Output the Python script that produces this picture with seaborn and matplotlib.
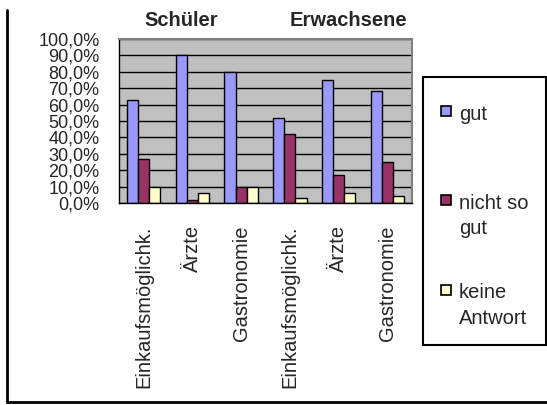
import matplotlib
matplotlib.use('Agg')
import matplotlib.pyplot as plt
from matplotlib.patches import Rectangle
from matplotlib.lines import Line2D
from matplotlib.ticker import FixedLocator, FuncFormatter
from matplotlib.transforms import blended_transform_factory
import seaborn as sns
import pandas as pd
import numpy as np

# data (percent)
groups = ['Schüler', 'Erwachsene']
categories = ['Einkaufsmöglichk.', 'Ärzte', 'Gastronomie']
series = ['gut', 'nicht so gut', 'keine Antwort']
legend_labels = ['gut', 'nicht so\ngut', 'keine\nAntwort']
colors = ['#9999FF', '#993366', '#FFFFCC']

gut = [63, 90, 80, 52, 75, 68]
nicht_so_gut = [27, 2, 10, 42, 17, 25]
keine_antwort = [10, 6, 10, 3, 6, 4]

slots = [f'{g}|{c}' for g in groups for c in categories]
slot_labels = [c for g in groups for c in categories]

rows = []
for name, vals in zip(series, [gut, nicht_so_gut, keine_antwort]):
    for s, v in zip(slots, vals):
        rows.append({'slot': s, 'series': name, 'value': v})
df = pd.DataFrame(rows)

sns.set_style('white')
plt.rcParams['font.family'] = ['Liberation Sans', 'DejaVu Sans']

W, H = 547, 405
FS = 14.5
fig = plt.figure(figsize=(W / 100, H / 100), dpi=100)
ax = fig.add_axes([119 / W, 1 - 203 / H, (412 - 119) / W, (203 - 39) / H])

sns.barplot(data=df, x='slot', y='value', hue='series', order=slots,
            hue_order=series, palette=colors, saturation=1,
            edgecolor='black', linewidth=1, width=0.68, gap=0,
            legend=False, ax=ax)

ax.set_facecolor('#C0C0C0')
ax.set_xlim(-0.5, len(slots) - 0.5)
ax.set_ylim(0, 100)
ax.set_yticks(np.arange(0, 101, 10))
ax.yaxis.set_major_formatter(FuncFormatter(lambda v, p: f'{v:.1f}%'.replace('.', ',')))
ax.grid(axis='y', color='black', linewidth=1)
ax.set_axisbelow(True)
ax.set_xlabel('')
ax.set_ylabel('')

ax.set_xticks(range(len(slots)))
ax.set_xticklabels(slot_labels, rotation=90, va='top', fontsize=FS)
ax.xaxis.set_minor_locator(FixedLocator(np.arange(-0.5, len(slots), 1)))
ax.tick_params(axis='x', which='major', length=0, pad=16)
ax.tick_params(axis='x', which='minor', length=5, width=1, color='black', direction='out')
ax.tick_params(axis='y', length=5, width=1, color='black', direction='out',
               labelsize=13, pad=9)

for side in ['left', 'bottom']:
    ax.spines[side].set_color('black')
    ax.spines[side].set_linewidth(1)
for side in ['top', 'right']:
    ax.spines[side].set_visible(True)
    ax.spines[side].set_color('#808080')
    ax.spines[side].set_linewidth(1.5)

# group headings
head_tr = blended_transform_factory(ax.transData, fig.transFigure)
ax.text(0.78, 1 - 20 / H, groups[0], transform=head_tr,
        ha='center', va='center', fontsize=FS, fontweight='bold')
ax.text(4.2, 1 - 20 / H, groups[1], transform=head_tr,
        ha='center', va='center', fontsize=FS, fontweight='bold')

# legend box drawn by hand so that squares line up with first text line
fig.patches.append(Rectangle((423 / W, 1 - 345 / H), (546 - 423) / W, (345 - 77) / H,
                             transform=fig.transFigure, facecolor='white',
                             edgecolor='black', linewidth=1.5))
for i, (lab, col) in enumerate(zip(legend_labels, colors)):
    cy = 110.5 + i * 89.5
    fig.patches.append(Rectangle((441 / W, 1 - (cy + 5) / H), 10 / W, 10 / H,
                                 transform=fig.transFigure, facecolor=col,
                                 edgecolor='black', linewidth=1.2))
    fig.text(459 / W, 1 - (cy - 6) / H, lab, ha='left', va='top',
             fontsize=FS, linespacing=1.42)

# outer chart border (left and bottom edges visible)
fig.add_artist(Line2D([7 / W, 7 / W], [1 - 10 / H, 1 - 402 / H], color='black', linewidth=2))
fig.add_artist(Line2D([7 / W, 1], [1 - 402 / H, 1 - 402 / H], color='black', linewidth=2))

fig.savefig('out.png', dpi=100)
